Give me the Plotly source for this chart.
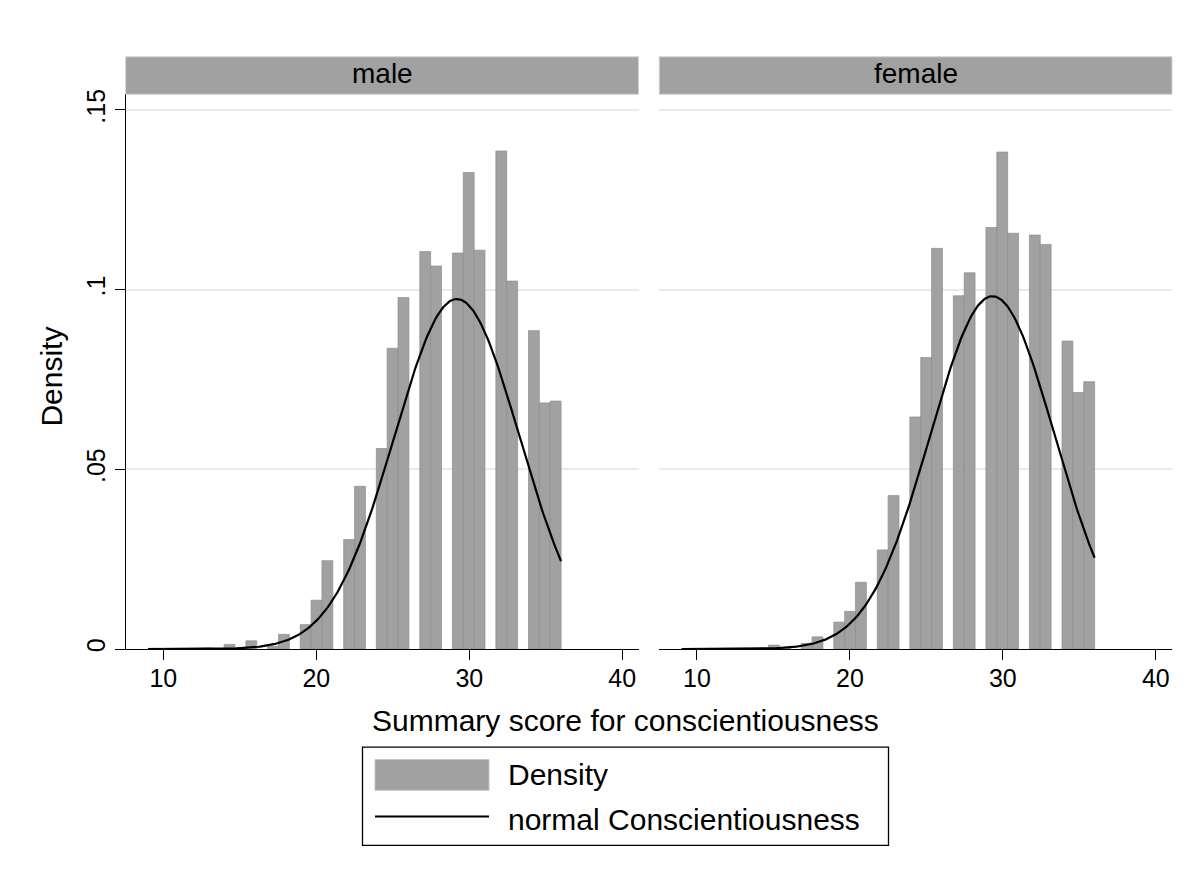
import numpy as np
import plotly.graph_objects as go

# ---------------- data ----------------
groups = ["male", "female"]
scores = list(range(9, 37))
male_density = [0.0002, 0.0001, 0.0001, 0.0002, 0.0003, 0.0013, 0.0004, 0.0023, 0.0008, 0.0041,
                0.0068, 0.0136, 0.0246, 0.0305, 0.0453, 0.0558,
                0.0837, 0.0978, 0.1106, 0.1066, 0.1102, 0.1326,
                0.1110, 0.1386, 0.1024, 0.0886, 0.0685, 0.0690]
female_density = [0.0001, 0.0001, 0.0001, 0.0001, 0.0002, 0.0003, 0.0011, 0.0004, 0.0016, 0.0034,
                  0.0075, 0.0105, 0.0186, 0.0276, 0.0427, 0.0646,
                  0.0811, 0.1115, 0.0983, 0.1047, 0.1173, 0.1383,
                  0.1157, 0.1152, 0.1126, 0.0857, 0.0714, 0.0744]
normal_mean = [29.19, 29.32]
normal_sd = [4.096, 4.063]
hist_min, hist_max, n_bins = 9, 36, 38
x_ticks = [10, 20, 30, 40]
x_ticklabels = ["10", "20", "30", "40"]
y_ticks = [0, 0.05, 0.1, 0.15]
y_ticklabels = ["0", ".05", ".1", ".15"]
x_title = "Summary score for conscientiousness"
y_title = "Density"
legend_labels = ["Density", "normal Conscientiousness"]

# ---------------- styling ----------------
W, H = 1203, 879
FONT = "Liberation Sans, Arial, sans-serif"
BAR_FILL = "#a1a1a1"
BAR_LINE = "#8d8d8d"
GRID = "#e3edf0"


def px(x):
    return x / W


def py(y):
    return 1 - y / H


bin_w = (hist_max - hist_min) / n_bins


def bin_center(s):
    k = min(int(np.floor((s - hist_min) / bin_w + 1e-9)), n_bins - 1)
    return hist_min + (k + 0.5) * bin_w


fig = go.Figure()
densities = [male_density, female_density]
for i, g in enumerate(groups):
    xa = "x" if i == 0 else "x2"
    ya = "y" if i == 0 else "y2"
    centers = [bin_center(s) for s in scores]
    fig.add_trace(go.Bar(
        x=centers, y=densities[i], width=[bin_w] * len(scores),
        marker=dict(color=BAR_FILL, line=dict(color=BAR_LINE, width=0.7)),
        xaxis=xa, yaxis=ya, showlegend=False, name=legend_labels[0]))
    xs = np.linspace(hist_min, hist_max, 300)
    m, sd = normal_mean[i], normal_sd[i]
    ys = np.exp(-0.5 * ((xs - m) / sd) ** 2) / (sd * np.sqrt(2 * np.pi))
    fig.add_trace(go.Scatter(
        x=xs, y=ys, mode="lines", line=dict(color="black", width=2.2),
        xaxis=xa, yaxis=ya, showlegend=False, name=legend_labels[1]))

x_range = [7.54, 41.06]
y_range = [0, 0.1544]
dom_x1 = [px(125.7), px(638.5)]
dom_x2 = [px(659.3), px(1172.0)]
dom_y = [py(650), py(90)]

xaxis_common = dict(
    range=x_range, showgrid=False, zeroline=False, showline=True,
    linecolor="black", linewidth=1.3, ticks="outside", ticklen=10,
    tickcolor="black", tickwidth=1.3, tickvals=x_ticks, ticktext=x_ticklabels,
    ticklabelstandoff=-3,
    tickfont=dict(family=FONT, size=25, color="black"), fixedrange=True)
yaxis_common = dict(
    range=y_range, showgrid=True, gridcolor=GRID, gridwidth=1.5,
    zeroline=False, tickvals=y_ticks, ticktext=y_ticklabels, fixedrange=True)

fig.update_layout(
    width=W, height=H, margin=dict(l=0, r=0, t=0, b=0),
    paper_bgcolor="white", plot_bgcolor="white",
    xaxis=dict(domain=dom_x1, anchor="y", **xaxis_common),
    xaxis2=dict(domain=dom_x2, anchor="y2", **xaxis_common),
    yaxis=dict(domain=dom_y, anchor="x", showline=True, linecolor="black",
               linewidth=1.3, ticks="outside", ticklen=10, tickcolor="black",
               tickwidth=1.3, tickangle=-90,
               tickfont=dict(family=FONT, size=25, color="black"),
               **yaxis_common),
    yaxis2=dict(domain=dom_y, anchor="x2", showline=False, ticks="",
                showticklabels=False, **yaxis_common),
    barmode="overlay",
    showlegend=False,
)

shapes = []
annotations = []
# strip headers
for i, g in enumerate(groups):
    d = dom_x1 if i == 0 else dom_x2
    shapes.append(dict(type="rect", xref="paper", yref="paper",
                       x0=d[0], x1=d[1], y0=py(90), y1=py(52.3),
                       fillcolor="#a1a1a1", line=dict(color="#cfcfcf", width=1)))
    annotations.append(dict(xref="paper", yref="paper", x=(d[0] + d[1]) / 2, y=py(69),
                            text=g, showarrow=False, xanchor="center", yanchor="middle",
                            font=dict(family=FONT, size=28, color="black")))

# axis titles
annotations.append(dict(xref="paper", yref="paper", x=px(625.5), y=py(722),
                        text=x_title, showarrow=False, xanchor="center", yanchor="middle",
                        font=dict(family=FONT, size=30, color="black")))
annotations.append(dict(xref="paper", yref="paper", x=px(52), y=py(375),
                        text=y_title, showarrow=False, xanchor="center", yanchor="middle",
                        textangle=-90, font=dict(family=FONT, size=30, color="black")))

# legend (drawn)
shapes.append(dict(type="rect", xref="paper", yref="paper",
                   x0=px(362.5), x1=px(888.5), y0=py(848), y1=py(749),
                   fillcolor="white", line=dict(color="black", width=1.3)))
shapes.append(dict(type="rect", xref="paper", yref="paper",
                   x0=px(375), x1=px(489), y0=py(792.5), y1=py(761.5),
                   fillcolor=BAR_FILL, line=dict(color="#c4c4c4", width=1)))
shapes.append(dict(type="line", xref="paper", yref="paper",
                   x0=px(375), x1=px(489), y0=py(819), y1=py(819),
                   line=dict(color="black", width=2)))
annotations.append(dict(xref="paper", yref="paper", x=px(506), y=py(777),
                        text=legend_labels[0], showarrow=False, xanchor="left", yanchor="middle",
                        font=dict(family=FONT, size=30, color="black")))
annotations.append(dict(xref="paper", yref="paper", x=px(506), y=py(822),
                        text=legend_labels[1], showarrow=False, xanchor="left", yanchor="middle",
                        font=dict(family=FONT, size=30, color="black")))

fig.update_layout(shapes=shapes, annotations=annotations)

fig.write_html("out.html", config={"displayModeBar": False})
